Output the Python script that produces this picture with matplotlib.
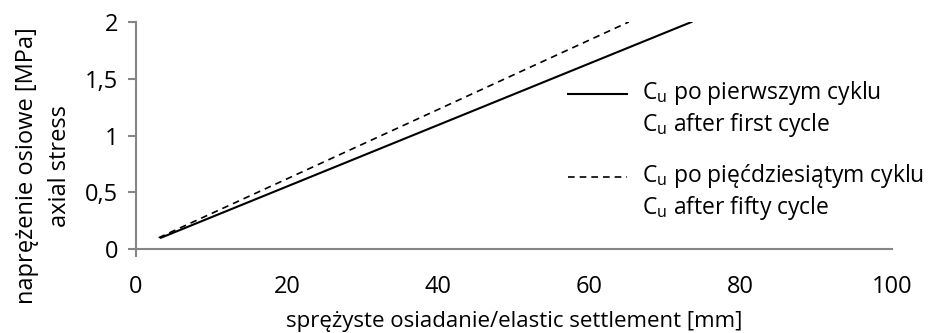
import matplotlib
matplotlib.use("Agg")
import matplotlib.pyplot as plt

plt.rcParams['font.family'] = ['Open Sans', 'DejaVu Sans']
plt.rcParams['mathtext.fontset'] = 'custom'
plt.rcParams['mathtext.rm'] = 'Open Sans'

# settlement [mm] vs axial stress [MPa]
first_x = [3.3, 73.5]
first_y = [0.1, 2.0]
fifty_x = [3.0, 65.2]
fifty_y = [0.1, 2.0]

first_label = "C$_\\mathregular{u}$ po pierwszym cyklu\nC$_\\mathregular{u}$ after first cycle"
fifty_label = "C$_\\mathregular{u}$ po pięćdziesiątym cyklu\nC$_\\mathregular{u}$ after fifty cycle"

xticks = [0, 20, 40, 60, 80, 100]
yticks = [0, 0.5, 1, 1.5, 2]
ytick_labels = ['0', '0,5', '1', '1,5', '2']

fig = plt.figure(figsize=(9.33, 3.33), dpi=100)
ax = fig.add_axes([0.1458, 0.252, 0.81, 0.682])

ax.plot(first_x, first_y, color='black', lw=1.5, label=first_label)
ax.plot(fifty_x, fifty_y, color='black', lw=1.2, ls=(0, (4, 3)), label=fifty_label)

ax.set_xlim(0, 100)
ax.set_ylim(0, 2)
ax.set_xticks(xticks)
ax.set_yticks(yticks)
ax.set_yticklabels(ytick_labels)

for side in ['top', 'right']:
    ax.spines[side].set_visible(False)
for side in ['left', 'bottom']:
    ax.spines[side].set_color('#868686')
    ax.spines[side].set_linewidth(1.5)
ax.tick_params(axis='both', color='#868686', width=1.5, length=6, labelsize=17, pad=7)
ax.tick_params(axis='x', length=0, pad=19)
# short tick below the origin only
ax.xaxis.get_major_ticks()[0].tick1line.set_markersize(6)

ax.set_xlabel("sprężyste osiadanie/elastic settlement [mm]", fontsize=16, labelpad=8)
ax.set_ylabel("naprężenie osiowe [MPa]\naxial stress", fontsize=17, linespacing=1.5)
ax.yaxis.set_label_coords(-0.085, 0.366)

leg = ax.legend(loc='center left', bbox_to_anchor=(0.571, 0.436), frameon=False,
                fontsize=16.5, handlelength=2.6, handletextpad=0.65,
                labelspacing=1.0, borderpad=0, borderaxespad=0)
# sit the sample lines next to the first text line of each entry
for ln in leg.get_lines():
    ln.set_ydata([v + 11 for v in ln.get_ydata()])

fig.savefig("out.png", dpi=100)
